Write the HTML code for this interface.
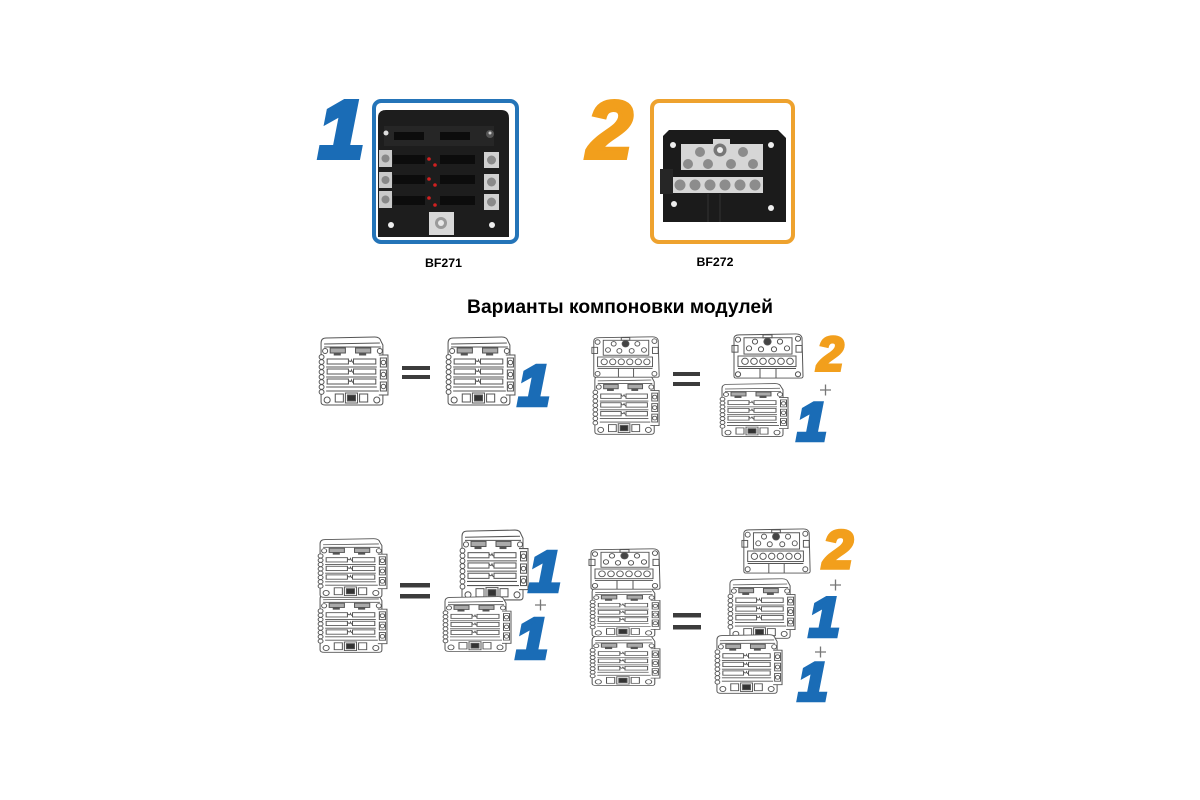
<!DOCTYPE html>
<html><head><meta charset="utf-8">
<style>
html,body{margin:0;padding:0;background:#fff;}
svg{display:block;}
.num{font-family:"Liberation Sans",sans-serif;font-weight:bold;font-style:italic;}
.b{fill:#1a6cb6;stroke:#1a6cb6;stroke-linejoin:miter;}
.o{fill:#f29f1c;stroke:#f29f1c;stroke-linejoin:miter;}
</style></head>
<body>
<svg width="1200" height="800" viewBox="0 0 1200 800" xmlns="http://www.w3.org/2000/svg">
<defs>
<symbol id="fm" viewBox="0 0 74 72" preserveAspectRatio="none">
<g fill="none" stroke="#555" stroke-width="1">
<path d="M5,8 Q5,3 10,3 L58,2 Q63,2 64,6 L66,10 L66,67 Q66,70 63,70 L9,70 Q5,70 5,67 Z" fill="#fff"/>
<path d="M8,9 L63,8"/>
<path d="M8,12 L64,12"/>
<path d="M62,20 L71,20 L71,60 L62,60" fill="#fff"/>
<rect x="63.5" y="23" width="6" height="9"/>
<rect x="63.5" y="35" width="6" height="9"/>
<rect x="63.5" y="47" width="6" height="9"/>
<circle cx="66.5" cy="27.5" r="2.2"/>
<circle cx="66.5" cy="39.5" r="2.2"/>
<circle cx="66.5" cy="51.5" r="2.2"/>
<circle cx="63" cy="16" r="2.5"/>
<circle cx="9" cy="16" r="2.5"/>
<circle cx="5.5" cy="22" r="2.4" fill="#fff"/>
<circle cx="5.5" cy="27" r="2.4" fill="#fff"/>
<circle cx="5.5" cy="32" r="2.4" fill="#fff"/>
<circle cx="5.5" cy="37" r="2.4" fill="#fff"/>
<circle cx="5.5" cy="42" r="2.4" fill="#fff"/>
<circle cx="5.5" cy="47" r="2.4" fill="#fff"/>
<circle cx="5.5" cy="52" r="2.4" fill="#fff"/>
<circle cx="5.5" cy="57" r="2.4" fill="#fff"/>
<rect x="14" y="13" width="15" height="5" fill="#aaa"/>
<rect x="39" y="13" width="15" height="5" fill="#aaa"/>
<rect x="18" y="18" width="6" height="2" fill="#555"/>
<rect x="43" y="18" width="6" height="2" fill="#555"/>
<rect x="11" y="24" width="21" height="5"/>
<rect x="37" y="24" width="22" height="5"/>
<path d="M32,25 q2,3 3,0 q1,3 2,2"/>
<path d="M10,32 L60,32"/>
<rect x="11" y="34" width="21" height="5"/>
<rect x="37" y="34" width="22" height="5"/>
<path d="M32,35 q2,3 3,0 q1,3 2,2"/>
<path d="M10,42 L60,42"/>
<rect x="11" y="44" width="21" height="5"/>
<rect x="37" y="44" width="22" height="5"/>
<path d="M32,45 q2,3 3,0 q1,3 2,2"/>
<path d="M10,52 L60,52"/>
<path d="M10,56 L62,56"/>
<rect x="19" y="59" width="8" height="8"/>
<rect x="29" y="58" width="12" height="10"/>
<rect x="31" y="60" width="8" height="6" fill="#333"/>
<rect x="43" y="59" width="8" height="8"/>
<circle cx="11" cy="65" r="3"/>
<circle cx="60" cy="65" r="3"/>
</g>
</symbol>
<symbol id="bb" viewBox="0 0 76 50" preserveAspectRatio="none">
<g fill="none" stroke="#555" stroke-width="1">
<path d="M4,7 Q4,3 9,3 L66,2 Q71,2 72,6 L73,46 Q73,48 71,48 L6,48 Q4,48 4,46 Z" fill="#fff"/>
<circle cx="8" cy="8" r="2.6"/><circle cx="68" cy="7" r="2.6"/>
<circle cx="8" cy="44" r="2.6"/><circle cx="68" cy="44" r="2.6"/>
<rect x="14" y="6" width="48" height="17"/>
<rect x="33" y="3" width="9" height="3"/>
<circle cx="25" cy="10" r="2.6"/>
<circle cx="37.5" cy="10" r="3.6" fill="#444"/>
<circle cx="50" cy="10" r="2.6"/>
<circle cx="19" cy="17" r="2.6"/>
<circle cx="31" cy="18" r="2.6"/>
<circle cx="44" cy="18" r="2.6"/>
<circle cx="57" cy="17" r="2.6"/>
<rect x="2" y="14" width="6" height="7"/>
<rect x="66" y="14" width="6" height="7"/>
<rect x="8" y="25" width="58" height="11"/>
<circle cx="15" cy="30.5" r="3.3"/>
<circle cx="24" cy="30.5" r="3.3"/>
<circle cx="33" cy="30.5" r="3.3"/>
<circle cx="42" cy="30.5" r="3.3"/>
<circle cx="51" cy="30.5" r="3.3"/>
<circle cx="60" cy="30.5" r="3.3"/>
<path d="M8,38 L66,38 M30,38 L30,48 M46,38 L46,48"/>
</g>
</symbol>
</defs>

<!-- ===== Top: product 1 ===== -->
<text class="num b" x="319" y="157" font-size="80" stroke-width="6">1</text>
<rect x="374" y="101" width="143" height="141" rx="7" fill="#fff" stroke="#2474b8" stroke-width="4"/>
<g>
<path d="M378,118 Q378,110 386,110 L501,110 Q509,110 509,118 L509,237 L378,237 Z" fill="#1d1d1d"/>
<rect x="384" y="126" width="110" height="20" fill="#262626"/>
<rect x="394" y="132" width="30" height="8" fill="#0c0c0c"/>
<rect x="440" y="132" width="30" height="8" fill="#0c0c0c"/>
<circle cx="386" cy="133" r="2.5" fill="#ddd"/>
<circle cx="490" cy="134" r="4" fill="#555"/>
<circle cx="490" cy="133" r="1.5" fill="#ccc"/>
<rect x="379" y="150" width="13" height="17" fill="#c9c9c9"/>
<rect x="379" y="172" width="13" height="16" fill="#c9c9c9"/>
<rect x="379" y="191" width="13" height="17" fill="#c9c9c9"/>
<circle cx="385.5" cy="158.5" r="4" fill="#888"/>
<circle cx="385.5" cy="180" r="4" fill="#888"/>
<circle cx="385.5" cy="199.5" r="4" fill="#888"/>
<rect x="484" y="152" width="15" height="16" fill="#d0d0d0"/>
<rect x="484" y="174" width="15" height="16" fill="#d0d0d0"/>
<rect x="484" y="194" width="15" height="16" fill="#d0d0d0"/>
<circle cx="491.5" cy="160" r="4.5" fill="#8a8a8a"/>
<circle cx="491.5" cy="182" r="4.5" fill="#8a8a8a"/>
<circle cx="491.5" cy="202" r="4.5" fill="#8a8a8a"/>
<rect x="393" y="155" width="32" height="9" fill="#0c0c0c"/>
<rect x="440" y="155" width="35" height="9" fill="#0c0c0c"/>
<rect x="393" y="175" width="32" height="9" fill="#0c0c0c"/>
<rect x="440" y="175" width="35" height="9" fill="#0c0c0c"/>
<rect x="393" y="196" width="32" height="9" fill="#0c0c0c"/>
<rect x="440" y="196" width="35" height="9" fill="#0c0c0c"/>
<circle cx="429" cy="159" r="1.8" fill="#d02020"/>
<circle cx="435" cy="165" r="1.8" fill="#d02020"/>
<circle cx="429" cy="179" r="1.8" fill="#d02020"/>
<circle cx="435" cy="185" r="1.8" fill="#d02020"/>
<circle cx="429" cy="198" r="1.8" fill="#d02020"/>
<circle cx="435" cy="205" r="1.8" fill="#d02020"/>
<rect x="429" y="212" width="25" height="23" fill="#d8d8d8"/>
<circle cx="441" cy="223" r="6" fill="#9a9a9a"/>
<circle cx="441" cy="223" r="3" fill="#e8e8e8"/>
<circle cx="391" cy="225" r="3" fill="#eee"/>
<circle cx="492" cy="225" r="3" fill="#eee"/>
</g>
<text x="443.5" y="267" font-family="Liberation Sans, sans-serif" font-weight="bold" font-size="12" text-anchor="middle" textLength="37" lengthAdjust="spacingAndGlyphs">BF271</text>

<!-- ===== Top: product 2 ===== -->
<text class="num o" x="587" y="158" font-size="82" stroke-width="4">2</text>
<rect x="652" y="101" width="141" height="141" rx="7" fill="#fff" stroke="#eea22e" stroke-width="4"/>
<g>
<path d="M669,130 L778,130 L786,138 L786,222 L663,222 L663,136 Z" fill="#1b1b1b"/>
<rect x="660" y="169" width="13" height="25" fill="#262626"/>
<rect x="681" y="144" width="82" height="26" fill="#d6d6d6"/>
<rect x="713" y="139" width="17" height="6" fill="#d6d6d6"/>
<circle cx="700" cy="152" r="5" fill="#8c8c8c"/>
<circle cx="720" cy="150" r="6.5" fill="#777"/>
<circle cx="720" cy="150" r="3" fill="#eee"/>
<circle cx="743" cy="152" r="5" fill="#8c8c8c"/>
<circle cx="688" cy="164" r="5" fill="#8c8c8c"/>
<circle cx="708" cy="164" r="5" fill="#8c8c8c"/>
<circle cx="731" cy="164" r="5" fill="#8c8c8c"/>
<circle cx="753" cy="164" r="5" fill="#8c8c8c"/>
<rect x="673" y="177" width="90" height="16" fill="#d6d6d6"/>
<circle cx="680" cy="185" r="5.5" fill="#8c8c8c"/>
<circle cx="695" cy="185" r="5.5" fill="#8c8c8c"/>
<circle cx="710" cy="185" r="5.5" fill="#8c8c8c"/>
<circle cx="725" cy="185" r="5.5" fill="#8c8c8c"/>
<circle cx="740" cy="185" r="5.5" fill="#8c8c8c"/>
<circle cx="755" cy="185" r="5.5" fill="#8c8c8c"/>
<circle cx="673" cy="145" r="3" fill="#eee"/>
<circle cx="771" cy="145" r="3" fill="#eee"/>
<circle cx="674" cy="204" r="3" fill="#eee"/>
<circle cx="771" cy="208" r="3" fill="#eee"/>
<path d="M708,194 L708,222 M720,194 L720,222" stroke="#333" stroke-width="1"/>
</g>
<text x="715" y="266" font-family="Liberation Sans, sans-serif" font-weight="bold" font-size="12" text-anchor="middle" textLength="37" lengthAdjust="spacingAndGlyphs">BF272</text>

<!-- Title -->
<text x="620" y="313" font-family="Liberation Sans, sans-serif" font-weight="bold" font-size="19" text-anchor="middle" textLength="306" lengthAdjust="spacingAndGlyphs">Варианты компоновки модулей</text>

<!-- ===== Row 1 left ===== -->
<use href="#fm" x="316" y="335" width="75" height="72"/>
<rect x="402" y="366" width="28" height="4" fill="#3c3c3c"/>
<rect x="402" y="375" width="28" height="4" fill="#3c3c3c"/>
<use href="#fm" x="443" y="335" width="75" height="72"/>
<text class="num b" x="518" y="405" font-size="57" stroke-width="4.5">1</text>

<!-- ===== Row 1 right ===== -->
<use href="#fm" x="590" y="373" width="72" height="63"/>
<use href="#bb" x="590" y="335" width="72" height="44"/>
<rect x="673" y="372" width="27" height="4" fill="#3c3c3c"/>
<rect x="673" y="382" width="27" height="4" fill="#3c3c3c"/>
<use href="#bb" x="730" y="332" width="76" height="48"/>
<use href="#fm" x="717" y="382" width="74" height="56"/>
<text class="num o" x="817" y="370.5" font-size="48" stroke-width="3">2</text>
<path d="M820,390 h11 M825.5,384.5 v11" stroke="#777" stroke-width="1.3"/>
<text class="num b" x="797" y="440" font-size="53" stroke-width="4.5">1</text>

<!-- ===== Row 2 left ===== -->
<use href="#fm" x="315" y="592" width="75" height="62"/>
<use href="#fm" x="315" y="537" width="75" height="62"/>
<rect x="400" y="583" width="30" height="4.5" fill="#3c3c3c"/>
<rect x="400" y="594" width="30" height="4.5" fill="#3c3c3c"/>
<use href="#fm" x="457" y="528" width="74" height="74"/>
<use href="#fm" x="440" y="595" width="74" height="58"/>
<text class="num b" x="529" y="591" font-size="57" stroke-width="4.5">1</text>
<path d="M535,605 h11 M540.5,599.5 v11" stroke="#777" stroke-width="1.3"/>
<text class="num b" x="516" y="658" font-size="57" stroke-width="4.5">1</text>

<!-- ===== Row 2 right ===== -->
<use href="#fm" x="587" y="634" width="76" height="53"/>
<use href="#fm" x="587" y="586" width="76" height="52"/>
<use href="#bb" x="587" y="547" width="76" height="44"/>
<rect x="673" y="613" width="28" height="4.5" fill="#3c3c3c"/>
<rect x="673" y="625" width="28" height="4.5" fill="#3c3c3c"/>
<use href="#bb" x="740" y="527" width="73" height="48"/>
<use href="#fm" x="725" y="577" width="73" height="63"/>
<use href="#fm" x="712" y="633" width="73" height="62"/>
<text class="num o" x="823" y="568" font-size="54" stroke-width="3.5">2</text>
<path d="M830,585 h11 M835.5,579.5 v11" stroke="#777" stroke-width="1.3"/>
<text class="num b" x="809" y="636" font-size="55" stroke-width="4.5">1</text>
<path d="M815,652 h11 M820.5,646.5 v11" stroke="#777" stroke-width="1.3"/>
<text class="num b" x="798" y="700" font-size="53" stroke-width="4.5">1</text>
</svg>
</body></html>
